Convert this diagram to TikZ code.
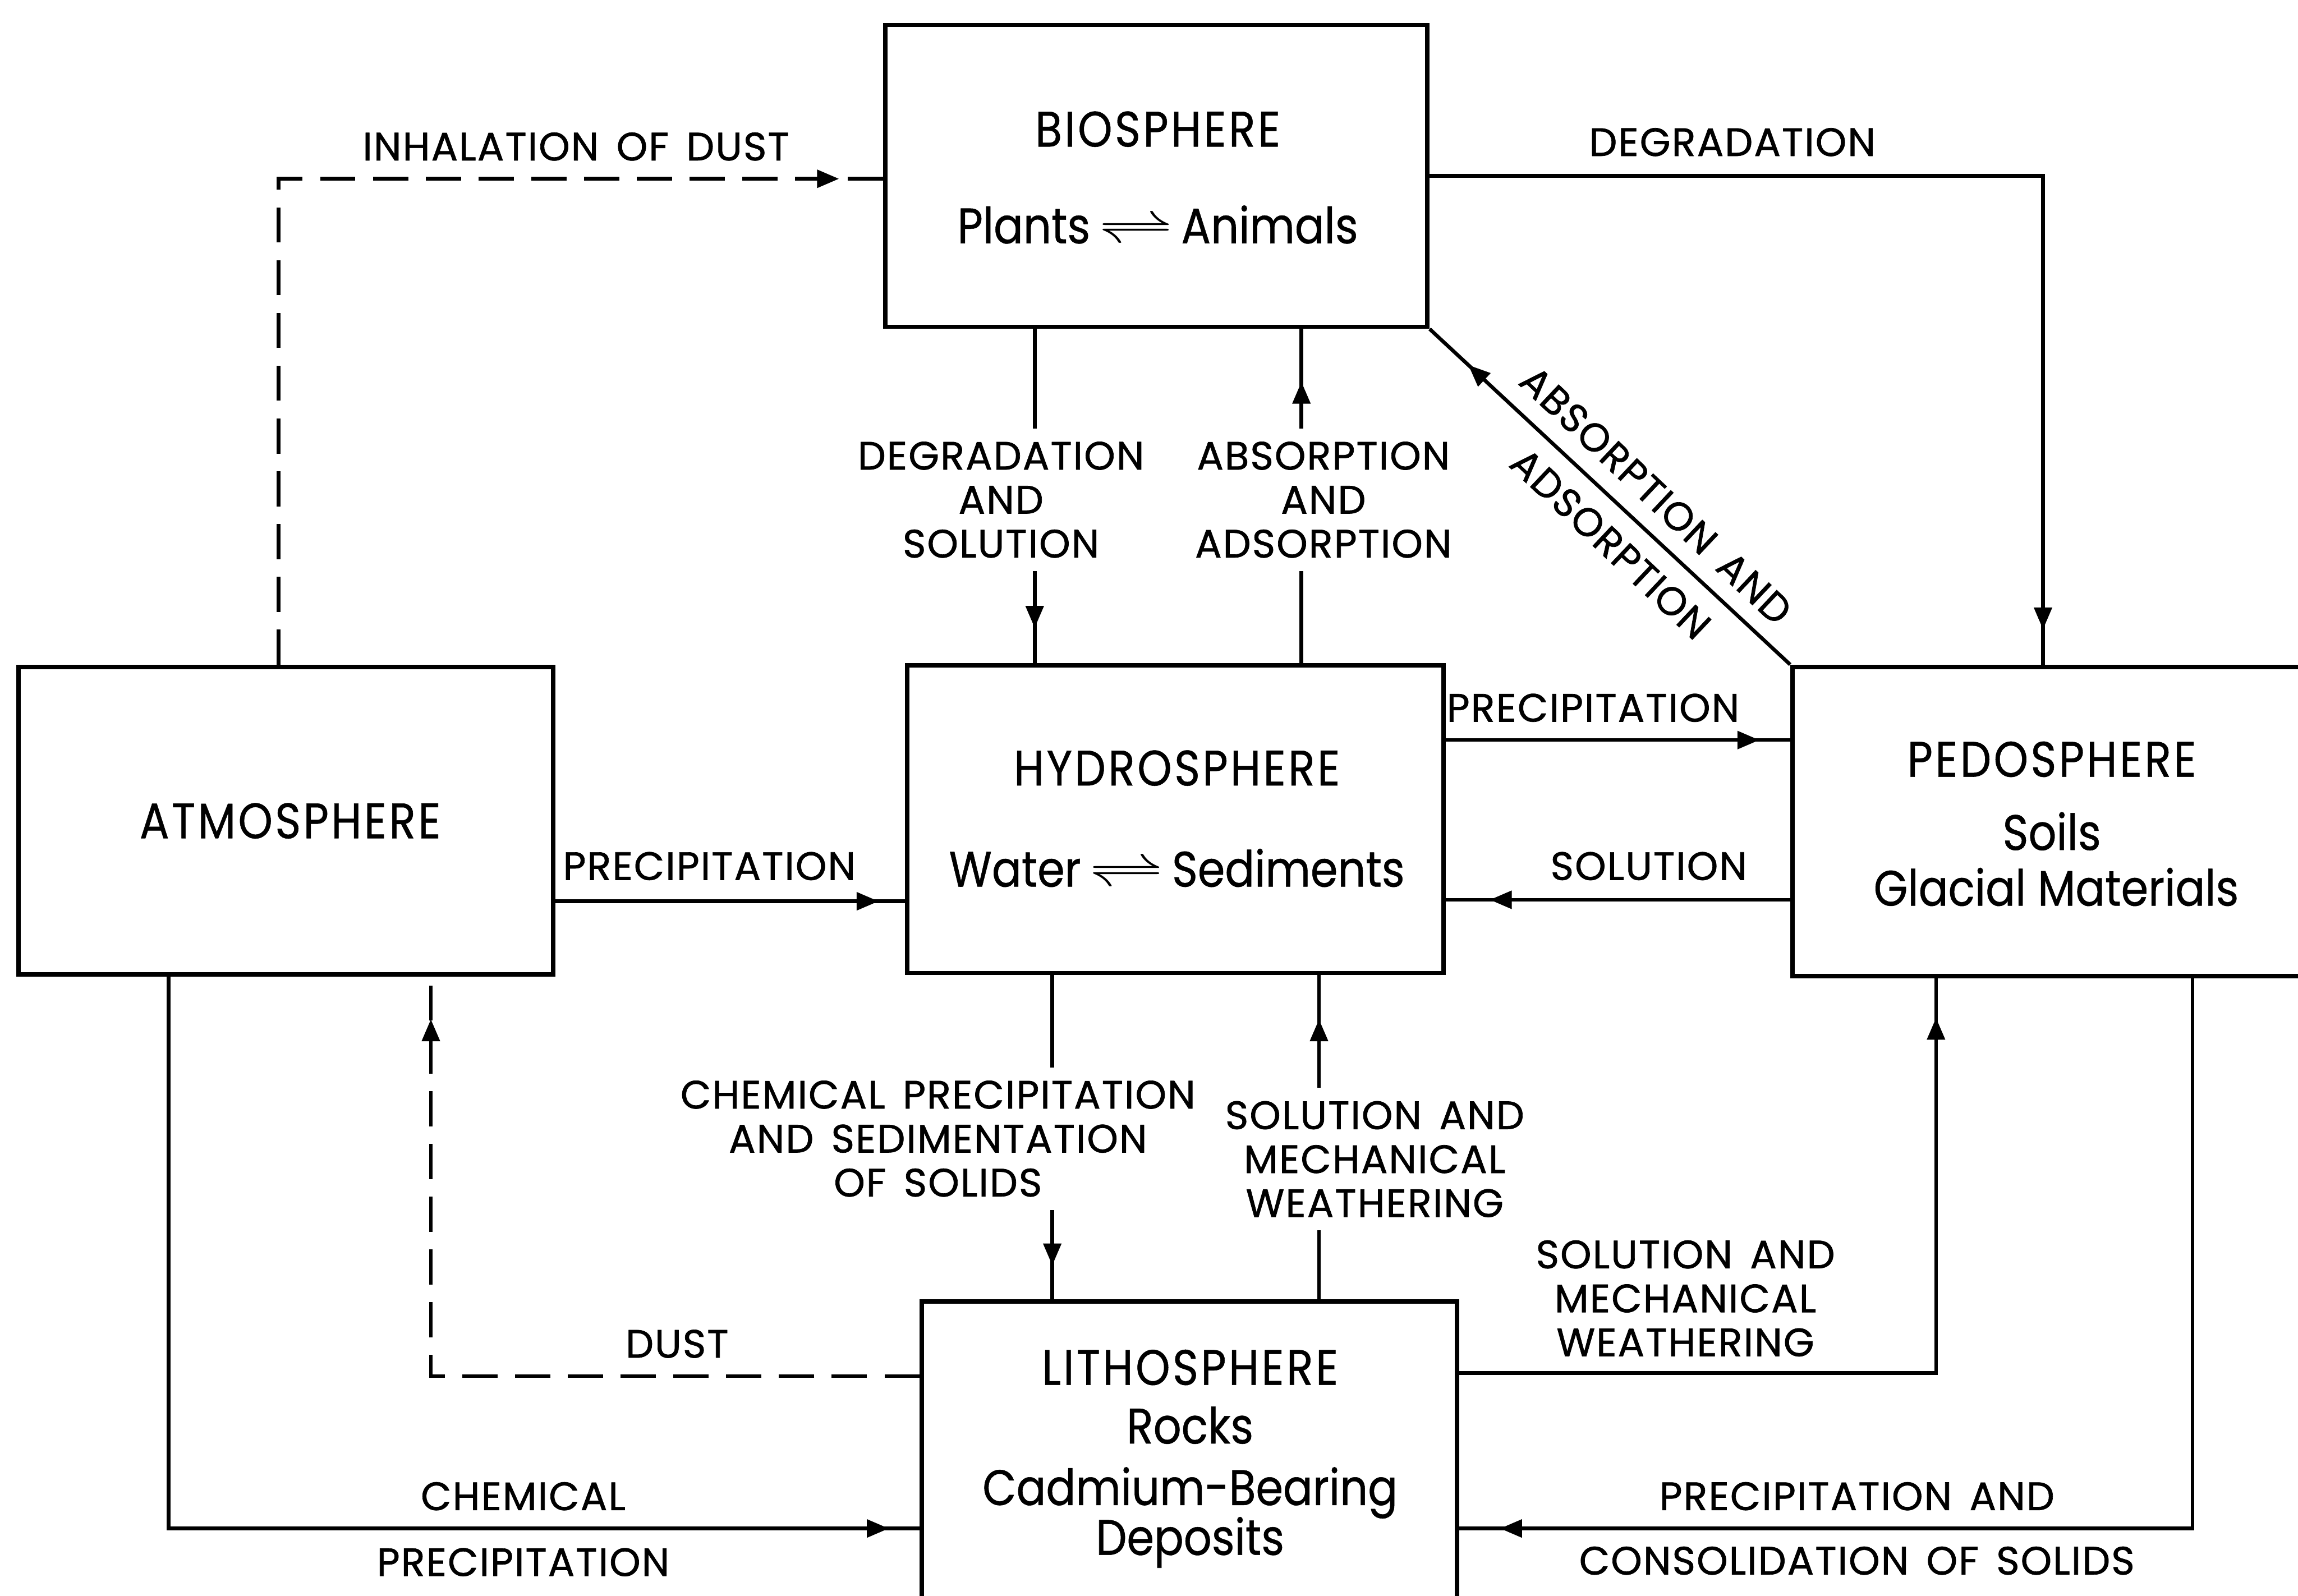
\documentclass[tikz,border=0pt]{standalone}
\usepackage{fontspec}
\setmainfont{Poppins}[FakeStretch=0.88, FakeBold=0.6]
\newfontfamily\capfont{Poppins}[FakeStretch=0.88, LetterSpace=5, FakeBold=0.6]
\newfontfamily\labfont{Poppins}[LetterSpace=3, WordSpace=1.5, FakeBold=1]
\usetikzlibrary{arrows.meta,decorations.markings}
\newcommand{\eqsym}{\scalebox{1.5}[1]{$\rightleftharpoons$}}
\tikzset{
  box/.style={draw, line width=1.5pt, inner sep=0pt},
  conn/.style={line width=1.25pt},
  dsh/.style={conn, dash pattern=on 12pt off 6pt},
  arr/.style={postaction={decorate}, decoration={markings, mark=at position #1 with {\arrow[solid]{Triangle[width=6pt,length=7.5pt]}}}},
  ttl/.style={font=\capfont\fontsize{17}{20}\selectfont, inner sep=0pt, anchor=base},
  sub/.style={font=\fontsize{17}{20}\selectfont, inner sep=0pt, anchor=base},
  lab/.style={font=\labfont\fontsize{13.5}{15}\selectfont, align=center, inner sep=1pt},
  gap/.style={fill=white, inner xsep=2pt, inner ysep=4.5pt},
}
\begin{document}
\begin{tikzpicture}[x=0.5pt,y=-0.5pt]
\useasboundingbox (0,0) rectangle (1568,1089);
\clip (0,0) rectangle (1568,1089);
% boxes
\node[box, minimum width=185pt, minimum height=103pt] (bio) at (789,120) {};
\node[box, minimum width=182.5pt, minimum height=105pt] (atm) at (195,560) {};
\node[box, minimum width=183pt, minimum height=105pt] (hyd) at (802,559) {};
\node[box, minimum width=178.5pt, minimum height=105.5pt] (ped) at (1401.5,560.5) {};
\node[box, minimum width=182.5pt, minimum height=111pt] (lit) at (811.5,999) {};
% box texts
\node[ttl] (bioT) at (790,100) {BIOSPHERE};
\node[sub] (bioS) at (790,166) {Plants\,\eqsym\,Animals};
\node[ttl] (atmT) at (198,572) {ATMOSPHERE};
\node[ttl] (hydT) at (803,536) {HYDROSPHERE};
\node[sub] (hydS) at (803,605) {Water\,\eqsym\,Sediments};
\node[ttl] (pedT) at (1400,530) {PEDOSPHERE};
\node[sub] (pedS) at (1400,580) {Soils};
\node[sub] (pedG) at (1403,618) {Glacial Materials};
\node[ttl] (litT) at (812,945) {LITHOSPHERE};
\node[sub] (litR) at (812,985) {Rocks};
\node[sub] (litC) at (812,1027) {Cadmium-Bearing};
\node[sub] (litD) at (812,1061) {Deposits};
% connectors
\draw[dsh, arr=-15pt] (atm.north -| 190,0) |- (bio.west |- 0,122);
\draw[conn, arr=-12pt] (bio.east |- 0,120) -| (ped.north -| 1394,0);
\draw[conn, arr=-12pt] (bio.south -| 706,0) -- (hyd.north -| 706,0);
\draw[conn, arr=-18pt] (hyd.north -| 888,0) -- (bio.south -| 888,0);
\draw[conn, arr=-18pt] (ped.north west) -- (bio.south east);
\draw[conn, arr=-10.5pt] (hyd.east |- 0,505) -- (ped.west |- 0,505);
\draw[conn, arr=-15pt] (ped.west |- 0,614) -- (hyd.east |- 0,614);
\draw[conn, arr=-9pt] (atm.east |- 0,615) -- (hyd.west |- 0,615);
\draw[conn, arr=-11.5pt] (hyd.south -| 718,0) -- (lit.north -| 718,0);
\draw[conn, arr=-15pt] (lit.north -| 900,0) -- (hyd.south -| 900,0);
\draw[dsh, arr=-14.5pt] (lit.west |- 0,939) -| (atm.south -| 294,0);
\draw[conn, arr=-10.5pt] (atm.south -| 115,0) |- (lit.west |- 0,1043);
\draw[conn, arr=-13.5pt] (lit.east |- 0,937) -| (ped.south -| 1321,0);
\draw[conn, arr=-14pt] (ped.south -| 1496,0) |- (lit.east |- 0,1043);
% labels
\node[lab] (l1) at (393,100) {INHALATION OF DUST};
\node[lab] (l2) at (1182,97) {DEGRADATION};
\node[lab, gap] (l3) at (683,341) {DEGRADATION\\AND\\SOLUTION};
\node[lab, gap] (l4) at (903,341) {ABSORPTION\\AND\\ADSORPTION};
\node[lab, rotate=-43.3] (l5a) at (1130,338) {ABSORPTION AND};
\node[lab, rotate=-43.3] (l5b) at (1099,371) {ADSORPTION};
\node[lab] (l6) at (1087,483) {PRECIPITATION};
\node[lab] (l7) at (1125,591) {SOLUTION};
\node[lab] (l8) at (484,591) {PRECIPITATION};
\node[lab, gap] (l9) at (640,777) {CHEMICAL PRECIPITATION\\AND SEDIMENTATION\\OF SOLIDS};
\node[lab, gap] (l10) at (938,791) {SOLUTION AND\\MECHANICAL\\WEATHERING};
\node[lab] (l11) at (462,917) {DUST};
\node[lab] (l12a) at (357,1021) {CHEMICAL};
\node[lab] (l12b) at (357,1066) {PRECIPITATION};
\node[lab] (l13) at (1150,886) {SOLUTION AND\\MECHANICAL\\WEATHERING};
\node[lab] (l14a) at (1267,1021) {PRECIPITATION AND};
\node[lab] (l14b) at (1267,1065) {CONSOLIDATION OF SOLIDS};
\end{tikzpicture}
\end{document}
